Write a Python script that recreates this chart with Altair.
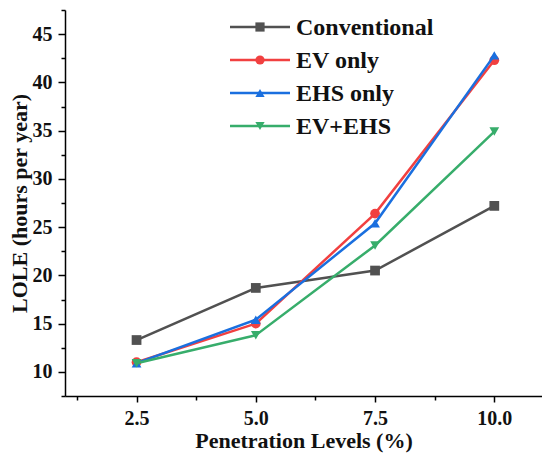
import altair as alt
import pandas as pd

levels = [2.5, 5.0, 7.5, 10.0]
series_names = ["Conventional", "EV only", "EHS only", "EV+EHS"]
conventional = [13.3, 18.7, 20.5, 27.2]
ev_only = [11.0, 15.0, 26.4, 42.3]
ehs_only = [10.9, 15.4, 25.4, 42.8]
ev_ehs = [10.9, 13.8, 23.1, 34.9]
colors = ["#515151", "#F14040", "#1A6FDF", "#37AD6B"]
shapes = ["square", "circle", "triangle-up", "triangle-down"]
x_ticks = [1.25, 2.5, 3.75, 5.0, 6.25, 7.5, 8.75, 10.0]
y_ticks = [7.5, 10, 12.5, 15, 17.5, 20, 22.5, 25, 27.5, 30, 32.5, 35, 37.5, 40, 42.5, 45, 47.5]

values = [conventional, ev_only, ehs_only, ev_ehs]
rows = []
for name, vals in zip(series_names, values):
    for lv, v in zip(levels, vals):
        rows.append({"level": lv, "series": name, "lole": v})
df = pd.DataFrame(rows)
leg_df = pd.DataFrame({"series": series_names})

FONT = "'Liberation Serif', 'DejaVu Serif', serif"
color_scale = alt.Scale(domain=series_names, range=colors)
shape_scale = alt.Scale(domain=series_names, range=shapes)

x_enc = alt.X(
    "level:Q",
    scale=alt.Scale(domain=[1, 11], nice=False, zero=False),
    axis=alt.Axis(
        values=x_ticks,
        labelExpr="datum.value % 2.5 == 0 ? format(datum.value, '.1f') : ''",
        tickSize={"condition": {"test": "datum.value % 2.5 == 0", "value": 6}, "value": 4},
        title="Penetration Levels (%)",
        titlePadding=2,
        labelPadding=6,
    ),
)
y_enc = alt.Y(
    "lole:Q",
    scale=alt.Scale(domain=[7.5, 47.5], nice=False, zero=False),
    axis=alt.Axis(
        values=y_ticks,
        labelExpr="datum.value % 5 == 0 ? format(datum.value, 'd') : ''",
        tickSize={"condition": {"test": "datum.value % 5 == 0", "value": 7}, "value": 4},
        title="LOLE (hours per year)",
        titlePadding=1,
        labelPadding=6,
    ),
)

layers = []
for name in series_names:
    base = alt.Chart(df).transform_filter(alt.datum.series == name)
    line = base.mark_line(strokeWidth=2.5).encode(
        x=x_enc, y=y_enc,
        color=alt.Color("series:N", scale=color_scale, legend=None),
    )
    pts = base.mark_point(filled=True, size=95, opacity=1).encode(
        x=x_enc, y=y_enc,
        color=alt.Color("series:N", scale=color_scale, legend=None),
        shape=alt.Shape("series:N", scale=shape_scale, legend=None),
    )
    layers += [line, pts]

leg_y = alt.Y(
    "series:N",
    scale=alt.Scale(type="point", domain=series_names, range=[17, 116], padding=0),
    axis=None,
)
leg_line = alt.Chart(leg_df).mark_rule(strokeWidth=2.5).encode(
    x=alt.value(165), x2=alt.value(225), y=leg_y,
    color=alt.Color("series:N", scale=color_scale, legend=None),
)
leg_pts = alt.Chart(leg_df).mark_point(filled=True, size=85, opacity=1).encode(
    x=alt.value(195), y=leg_y,
    color=alt.Color("series:N", scale=color_scale, legend=None),
    shape=alt.Shape("series:N", scale=shape_scale, legend=None),
)
leg_text = alt.Chart(leg_df).mark_text(
    align="left", baseline="middle", font=FONT, fontSize=24, fontWeight="bold", color="#111111", dy=1
).encode(x=alt.value(231), y=leg_y, text="series:N")

main = alt.layer(*layers)
legend = alt.layer(leg_line, leg_pts, leg_text)

chart = (
    alt.layer(main, legend)
    .resolve_scale(y="independent")
    .properties(
        width=477, height=386,
        autosize=alt.AutoSizeParams(type="none"),
        padding={"left": 57, "top": 2, "right": 0, "bottom": 57},
    )
    .configure_view(stroke=None)
    .configure_axis(
        grid=False,
        domainColor="#000000", domainWidth=1.5,
        tickColor="#000000", tickWidth=1.5,
        labelFont=FONT, labelFontSize=20, labelFontWeight="bold", labelColor="#111111",
        titleFont=FONT, titleFontSize=22, titleFontWeight="bold", titleColor="#111111",
    )
)

chart.save("out.html", embed_options={"renderer": "svg", "actions": False})
